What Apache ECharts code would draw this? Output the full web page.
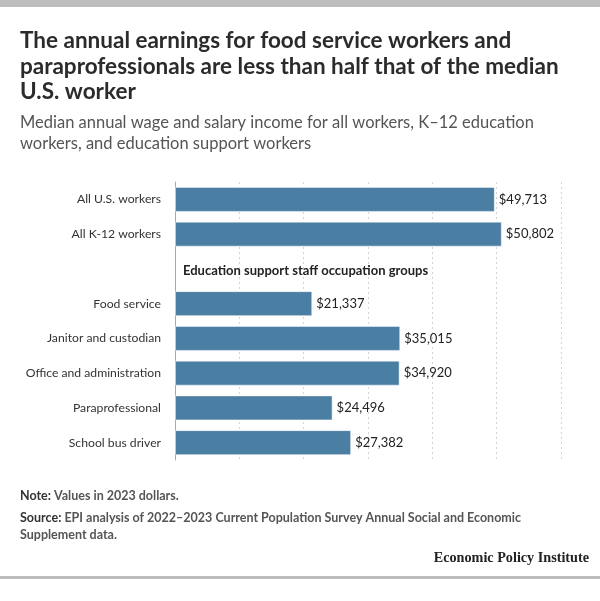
<!DOCTYPE html>
<html><head><meta charset="utf-8">
<script src="https://cdn.jsdelivr.net/npm/echarts@6/dist/echarts.min.js"></script>
<style>html,body{margin:0;padding:0;background:#fff}#c{width:600px;height:601px}</style>
</head><body><div id="c"></div>
<script>
const categories = ['All U.S. workers', 'All K-12 workers', '', 'Food service', 'Janitor and custodian', 'Office and administration', 'Paraprofessional', 'School bus driver'];
const values = [49713, 50802, null, 21337, 35015, 34920, 24496, 27382];
const groupHeader = 'Education support staff occupation groups';
const xMin = 0, xMax = 60000, xInterval = 10000;

const FONT = 'Lato, "Open Sans", sans-serif';
const chart = echarts.init(document.getElementById('c'), null, {renderer: 'canvas'});

const seriesData = values.map(function (v, i) {
  if (v === null) {
    return {
      value: 0,
      itemStyle: {color: 'rgba(0,0,0,0)', borderWidth: 0},
      label: {show: true, position: 'right', distance: 8, offset: [0, 2], formatter: groupHeader, fontWeight: 'bold', fontSize: 13, color: '#222'}
    };
  }
  return {value: v};
});

chart.setOption({
  animation: false,
  backgroundColor: '#fff',
  title: [
    {
      text: 'The annual earnings for food service workers and\nparaprofessionals are less than half that of the median\nU.S. worker',
      left: 20, top: 28, padding: 0,
      textStyle: {fontFamily: FONT, fontSize: 22.5, fontWeight: 'bold', color: '#2b2b2b', lineHeight: 25.5}
    },
    {
      text: 'Median annual wage and salary income for all workers, K\u201312 education\nworkers, and education support workers',
      left: 20, top: 112, padding: 0,
      textStyle: {fontFamily: FONT, fontSize: 16.5, fontWeight: 'normal', color: '#555', lineHeight: 21}
    },
    {
      text: '{b|Note:} Values in 2023 dollars.',
      left: 20, top: 487, padding: 0,
      textStyle: {fontFamily: FONT, fontSize: 12.5, color: '#555', lineHeight: 17,
        rich: {b: {fontFamily: FONT, fontSize: 12.5, fontWeight: 'bold', color: '#333'}}}
    },
    {
      text: '{b|Source:} EPI analysis of 2022\u20132023 Current Population Survey Annual Social and Economic\nSupplement data.',
      left: 20, top: 509, padding: 0,
      textStyle: {fontFamily: FONT, fontSize: 12.5, color: '#555', lineHeight: 17,
        rich: {b: {fontFamily: FONT, fontSize: 12.5, fontWeight: 'bold', color: '#333', lineHeight: 17}}}
    },
    {
      text: 'Economic Policy Institute',
      right: 11, top: 551, padding: 0,
      textStyle: {fontFamily: '"Liberation Serif", serif', fontSize: 14.2, fontWeight: 'bold', color: '#222'}
    }
  ],
  graphic: [
    {type: 'rect', shape: {x: 0, y: 0, width: 600, height: 7}, style: {fill: '#bdbdbd'}, silent: true},
    {type: 'rect', shape: {x: 0, y: 576, width: 600, height: 3}, style: {fill: '#bdbdbd'}, silent: true}
  ],
  grid: {left: 175, right: 39, top: 182, height: 278, containLabel: false},
  xAxis: {
    type: 'value', min: xMin, max: xMax, interval: xInterval,
    axisLabel: {show: false}, axisLine: {show: false}, axisTick: {show: false},
    splitLine: {show: true, lineStyle: {color: '#d4d4d4', type: [2, 3], width: 1}}
  },
  yAxis: {
    type: 'category', data: categories, inverse: true,
    axisTick: {show: false},
    axisLine: {show: true, lineStyle: {color: '#a9a9a9', width: 1}},
    axisLabel: {fontFamily: FONT, fontSize: 12.2, color: '#333', margin: 14}
  },
  series: [{
    type: 'bar',
    data: seriesData,
    barWidth: 25,
    itemStyle: {color: '#4a7ea2', borderColor: 'rgba(255,255,255,0.5)', borderWidth: 1},
    label: {
      show: true, position: 'right', distance: 4,
      fontFamily: FONT, fontSize: 13, color: '#222',
      formatter: function (p) { return '$' + Number(p.value).toLocaleString('en-US'); }
    }
  }]
});
</script></body></html>
